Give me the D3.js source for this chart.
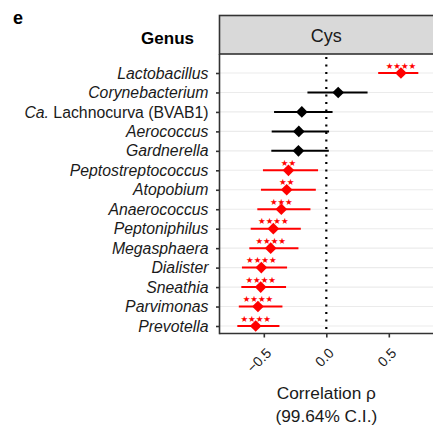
<!DOCTYPE html>
<html><head><meta charset="utf-8">
<script src="https://cdn.jsdelivr.net/npm/d3@7"></script>
<style>body{margin:0;background:#fff}svg{display:block;font-family:"Liberation Sans",Arial,sans-serif}</style>
</head><body><svg id="c" width="433" height="431"></svg>
<script>
const genera = ["Lactobacillus","Corynebacterium","Ca. Lachnocurva (BVAB1)","Aerococcus","Gardnerella","Peptostreptococcus","Atopobium","Anaerococcus","Peptoniphilus","Megasphaera","Dialister","Sneathia","Parvimonas","Prevotella"];
const rho   = [0.597, 0.095, -0.196, -0.220, -0.223, -0.303, -0.317, -0.360, -0.424, -0.445, -0.520, -0.525, -0.547, -0.565];
const lower = [0.415, -0.151, -0.418, -0.437, -0.440, -0.507, -0.523, -0.552, -0.605, -0.616, -0.675, -0.680, -0.700, -0.712];
const upper = [0.736, 0.330, 0.050, 0.022, 0.020, -0.066, -0.084, -0.127, -0.204, -0.223, -0.314, -0.322, -0.351, -0.375];
const stars = ["****","","","","","**","**","***","****","****","****","****","****","****"];
const xTicks = [-0.5, 0.0, 0.5];
const xTickLabels = ["-0.5","0.0","0.5"];
const facet = "Cys";

const svg = d3.select("#c");
const L = 219.5, R = 433, T = 54, B = 333.5;
const x = d3.scaleLinear().domain([-0.8545, 0.8535]).range([L, R]);
const y = d3.scalePoint().domain(genera).range([73, 326]);

// strip
svg.append("rect").attr("x", L).attr("y", 15.5).attr("width", R - L + 5).attr("height", T - 15.5)
  .attr("fill", "#d9d9d9").attr("stroke", "#333").attr("stroke-width", 1.6);
svg.append("text").attr("x", x(0)).attr("y", 41.5).attr("text-anchor", "middle")
  .attr("font-size", 18).attr("fill", "#1a1a1a").text(facet);

// gridlines
svg.append("g").selectAll("line").data(genera).join("line")
  .attr("x1", L).attr("x2", R).attr("y1", d => y(d)).attr("y2", d => y(d))
  .attr("stroke", "#ebebeb").attr("stroke-width", 1.1);

// zero dotted line
svg.append("line").attr("x1", x(0)).attr("x2", x(0)).attr("y1", T + 3).attr("y2", B)
  .attr("stroke", "#000").attr("stroke-width", 2.2).attr("stroke-dasharray", "2,5.5");

// CI lines
const col = i => stars[i] ? "#ff0000" : "#000000";
svg.append("g").selectAll("line").data(genera).join("line")
  .attr("x1", (d, i) => x(lower[i])).attr("x2", (d, i) => x(upper[i]))
  .attr("y1", d => y(d)).attr("y2", d => y(d))
  .attr("stroke", (d, i) => col(i)).attr("stroke-width", 2);

// diamonds
const dsym = d3.symbol().type(d3.symbolSquare).size(68);
svg.append("g").selectAll("path").data(genera).join("path")
  .attr("d", dsym)
  .attr("transform", (d, i) => `translate(${x(rho[i])},${y(d)}) rotate(45)`)
  .attr("fill", (d, i) => col(i));

// stars
svg.append("g").selectAll("text").data(genera).join("text")
  .attr("x", (d, i) => x(rho[i])).attr("y", d => y(d) - 4.3)
  .attr("text-anchor", "middle").attr("font-size", 8.5).attr("fill", "#ff0000")
  .attr("font-family", "DejaVu Sans")
  .text((d, i) => stars[i].replace(/\*/g, "★"));

// axes
const yAxis = d3.axisLeft(y).tickSize(3.5).tickFormat("");
const gy = svg.append("g").attr("transform", `translate(${L},0)`).call(yAxis);
gy.select(".domain").remove();
gy.selectAll(".tick line").attr("stroke", "#333").attr("stroke-width", 1.6);
svg.append("line").attr("x1", L).attr("x2", L).attr("y1", T).attr("y2", B + 0.8)
  .attr("stroke", "#333").attr("stroke-width", 1.6);

// y labels
const lab = svg.append("g").selectAll("text").data(genera).join("text")
  .attr("x", 208.5).attr("y", d => y(d) + 5.6).attr("text-anchor", "end")
  .attr("font-size", 15.8).attr("fill", "#1a1a1a");
lab.each(function(d) {
  const t = d3.select(this);
  if (d.startsWith("Ca. ")) {
    t.append("tspan").attr("font-style", "italic").text("Ca.");
    t.append("tspan").text(d.slice(3));
  } else {
    t.attr("font-style", "italic").text(d);
  }
});

const xAxis = d3.axisBottom(x).tickValues(xTicks).tickSize(4).tickFormat((d, i) => xTickLabels[i]);
const gx = svg.append("g").attr("transform", `translate(0,${B})`).call(xAxis);
gx.select(".domain").remove();
gx.selectAll(".tick line").attr("stroke", "#333").attr("stroke-width", 1.6);
gx.selectAll(".tick text").attr("font-size", 14).attr("fill", "#1a1a1a")
  .attr("text-anchor", "end").attr("dy", null).attr("y", 0)
  .attr("transform", "translate(8,20.5) rotate(-45)")
  .text((d, i) => xTickLabels[i].replace("-", "\u2212"));
svg.append("line").attr("x1", L).attr("x2", R).attr("y1", B).attr("y2", B)
  .attr("stroke", "#333").attr("stroke-width", 1.6);

// titles
svg.append("text").attr("x", x(0)).attr("y", 399).attr("text-anchor", "middle")
  .attr("font-size", 17.3).attr("fill", "#1a1a1a").text("Correlation ρ");
svg.append("text").attr("x", x(0)).attr("y", 421.5).attr("text-anchor", "middle")
  .attr("font-size", 17.3).attr("fill", "#1a1a1a").text("(99.64% C.I.)");
svg.append("text").attr("x", 194).attr("y", 43.5).attr("text-anchor", "end")
  .attr("font-size", 17).attr("font-weight", "bold").attr("fill", "#000").text("Genus");
svg.append("text").attr("x", 13).attr("y", 23.5)
  .attr("font-size", 18).attr("font-weight", "bold").attr("fill", "#000").text("e");
</script></body></html>
